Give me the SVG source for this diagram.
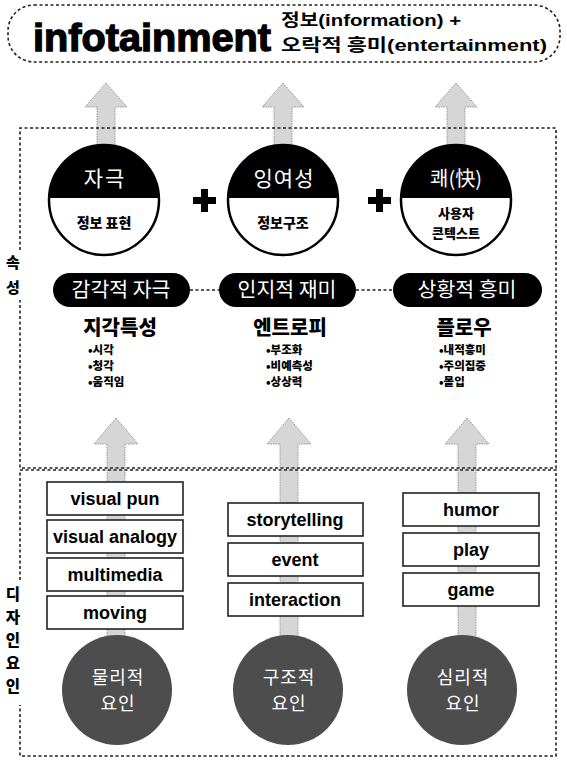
<svg xmlns="http://www.w3.org/2000/svg" width="567" height="762" viewBox="0 0 567 762">
<style>
.dash{fill:none;stroke:#222;stroke-width:1.6;stroke-dasharray:3 2.5}
.arrow{fill:#d6d6d6;stroke:#9a9a9a;stroke-width:1;stroke-dasharray:1.5 1}
.kr{font-family:"Noto Sans CJK KR","Noto Sans",sans-serif}
.en{font-family:"Liberation Sans",Arial,sans-serif;font-weight:bold}
.wt{fill:#fff}
.bk{fill:#000}
.box{fill:#fff;stroke:#222;stroke-width:1.6}
.pill{fill:#000}
.mid{text-anchor:middle}
.li{font-size:11.5px;font-weight:900}
</style>
<rect width="567" height="762" fill="#fff"/>

<g id="title">
<rect x="8" y="5" width="552" height="57" rx="26" class="dash" stroke-width="2"/>
<text x="33" y="51" class="en" font-size="39" stroke="#000" stroke-width="1.3" textLength="238" lengthAdjust="spacingAndGlyphs">infotainment</text>
<text x="281" y="26" class="kr" font-size="17" font-weight="bold" textLength="180" lengthAdjust="spacingAndGlyphs">정보<tspan class="en" font-weight="normal">(information) +</tspan></text>
<text x="281" y="51" class="kr" font-size="17" font-weight="bold" textLength="266" lengthAdjust="spacingAndGlyphs">오락적 흥미<tspan class="en" font-weight="normal">(entertainment)</tspan></text>
</g>

<g id="connectors">
<path class="arrow" d="M106 83 L127 107 L115 107 L115 150 L97 150 L97 107 L85 107 Z"/>
<path class="arrow" d="M283 83 L304 107 L292 107 L292 150 L274 150 L274 107 L262 107 Z"/>
<path class="arrow" d="M456 83 L477 107 L465 107 L465 150 L447 150 L447 107 L435 107 Z"/>
<path class="arrow" d="M116 418 L138 444 L125 444 L125 500 L107 500 L107 444 L94 444 Z"/>
<path class="arrow" d="M289 418 L311 444 L298 444 L298 510 L280 510 L280 444 L267 444 Z"/>
<path class="arrow" d="M467 418 L489 444 L476 444 L476 500 L458 500 L458 444 L445 444 Z"/>
<rect class="arrow" x="107" y="500" width="18" height="140"/>
<rect class="arrow" x="280" y="510" width="18" height="130"/>
<rect class="arrow" x="458" y="500" width="18" height="140"/>
<line x1="190" y1="290" x2="219" y2="290" class="dash"/>
<line x1="356" y1="290" x2="393" y2="290" class="dash"/>
</g>

<g id="attr-frame">
<path class="dash" d="M20 250 L20 128 L556 128 L556 468 L20 468 L20 300"/>
<text x="13" y="268" class="kr mid" font-size="15" font-weight="900">속</text>
<text x="13" y="293" class="kr mid" font-size="15" font-weight="900">성</text>
</g>

<g id="design-frame">
<path class="dash" d="M20 580 L20 470 L556 470 L556 756 L20 756 L20 705"/>
<text class="kr mid" font-size="15.5" font-weight="900"><tspan x="13" y="600">디</tspan><tspan x="13" y="623">자</tspan><tspan x="13" y="646">인</tspan><tspan x="13" y="669">요</tspan><tspan x="13" y="692">인</tspan></text>
</g>

<defs>
<clipPath id="c1"><circle cx="104" cy="200" r="55"/></clipPath>
<clipPath id="c2"><circle cx="283" cy="200" r="55"/></clipPath>
<clipPath id="c3"><circle cx="456" cy="200" r="55"/></clipPath>
</defs>

<g id="node-stimulus">
<circle cx="104" cy="200" r="55" fill="#fff"/>
<rect x="49" y="145" width="110" height="53" fill="#000" clip-path="url(#c1)"/>
<circle cx="104" cy="200" r="55" fill="none" stroke="#000" stroke-width="2.5"/>
<text x="105" y="186" class="kr mid wt" font-size="21" letter-spacing="2">자극</text>
<text x="104" y="228" class="kr mid bk" font-size="14" font-weight="900">정보 표현</text>
</g>
<g id="node-redundancy">
<circle cx="283" cy="200" r="55" fill="#fff"/>
<rect x="228" y="145" width="110" height="53" fill="#000" clip-path="url(#c2)"/>
<circle cx="283" cy="200" r="55" fill="none" stroke="#000" stroke-width="2.5"/>
<text x="284" y="186" class="kr mid wt" font-size="21" letter-spacing="1">잉여성</text>
<text x="283" y="228" class="kr mid bk" font-size="14" font-weight="900">정보구조</text>
</g>
<g id="node-pleasure">
<circle cx="456" cy="200" r="55" fill="#fff"/>
<rect x="401" y="145" width="110" height="53" fill="#000" clip-path="url(#c3)"/>
<circle cx="456" cy="200" r="55" fill="none" stroke="#000" stroke-width="2.5"/>
<text x="456" y="186" class="kr mid wt" font-size="20">쾌(快)</text>
<text x="456" y="218" class="kr mid bk" font-size="13" font-weight="900">사용자</text>
<text x="456" y="238" class="kr mid bk" font-size="13" font-weight="900">콘텍스트</text>
</g>

<g id="plus-signs">
<path d="M193 197 h23 v7 h-23 z M201 189 h7 v23 h-7 z" fill="#000"/>
<path d="M368 197 h23 v7 h-23 z M376 189 h7 v23 h-7 z" fill="#000"/>
</g>

<g id="pill-sensory">
<rect x="53" y="273" width="137" height="34" rx="17" class="pill"/>
<text x="121" y="297" class="kr mid wt" font-size="20.5">감각적 자극</text>
</g>
<g id="pill-cognitive">
<rect x="219" y="273" width="137" height="34" rx="17" class="pill"/>
<text x="287" y="297" class="kr mid wt" font-size="20.5">인지적 재미</text>
</g>
<g id="pill-situational">
<rect x="393" y="273" width="149" height="34" rx="17" class="pill"/>
<text x="467" y="297" class="kr mid wt" font-size="20.5">상황적 흥미</text>
</g>

<g id="perception">
<text x="120" y="335" class="kr mid" font-size="20" font-weight="900">지각특성</text>
<text class="kr li"><tspan x="88" y="354">•시각</tspan><tspan x="88" y="370">•청각</tspan><tspan x="88" y="386">•움직임</tspan></text>
</g>
<g id="entropy">
<text x="290" y="335" class="kr mid" font-size="20" font-weight="900">엔트로피</text>
<text class="kr li"><tspan x="266" y="354">•부조화</tspan><tspan x="266" y="370">•비예측성</tspan><tspan x="266" y="386">•상상력</tspan></text>
</g>
<g id="flow">
<text x="464" y="335" class="kr mid" font-size="20" font-weight="900">플로우</text>
<text class="kr li"><tspan x="439" y="354">•내적흥미</tspan><tspan x="439" y="370">•주의집중</tspan><tspan x="439" y="386">•몰입</tspan></text>
</g>

<g id="physical-items">
<rect x="47" y="482" width="136" height="33" class="box"/>
<text x="115" y="505" class="en mid" font-size="18">visual pun</text>
<rect x="47" y="520" width="136" height="33" class="box"/>
<text x="115" y="543" class="en mid" font-size="18" textLength="124" lengthAdjust="spacingAndGlyphs">visual analogy</text>
<rect x="47" y="558" width="136" height="33" class="box"/>
<text x="115" y="581" class="en mid" font-size="18">multimedia</text>
<rect x="47" y="596" width="136" height="33" class="box"/>
<text x="115" y="619" class="en mid" font-size="18">moving</text>
</g>
<g id="structural-items">
<rect x="228" y="503" width="135" height="33" class="box"/>
<text x="295" y="526" class="en mid" font-size="18">storytelling</text>
<rect x="228" y="543" width="135" height="33" class="box"/>
<text x="295" y="566" class="en mid" font-size="18">event</text>
<rect x="228" y="583" width="135" height="33" class="box"/>
<text x="295" y="606" class="en mid" font-size="18">interaction</text>
</g>
<g id="psych-items">
<rect x="403" y="493" width="136" height="33" class="box"/>
<text x="471" y="516" class="en mid" font-size="18">humor</text>
<rect x="403" y="533" width="136" height="33" class="box"/>
<text x="471" y="556" class="en mid" font-size="18">play</text>
<rect x="403" y="573" width="136" height="33" class="box"/>
<text x="471" y="596" class="en mid" font-size="18">game</text>
</g>

<g id="node-physical">
<circle cx="117" cy="690" r="55" fill="#4d4d4d"/>
<text x="118" y="684" class="kr mid wt" font-size="18" letter-spacing="1">물리적</text>
<text x="118" y="710" class="kr mid wt" font-size="18" letter-spacing="1">요인</text>
</g>
<g id="node-structural">
<circle cx="288" cy="690" r="55" fill="#4d4d4d"/>
<text x="289" y="684" class="kr mid wt" font-size="18" letter-spacing="1">구조적</text>
<text x="289" y="710" class="kr mid wt" font-size="18" letter-spacing="1">요인</text>
</g>
<g id="node-psych">
<circle cx="462" cy="690" r="55" fill="#4d4d4d"/>
<text x="463" y="684" class="kr mid wt" font-size="18" letter-spacing="1">심리적</text>
<text x="463" y="710" class="kr mid wt" font-size="18" letter-spacing="1">요인</text>
</g>
</svg>
